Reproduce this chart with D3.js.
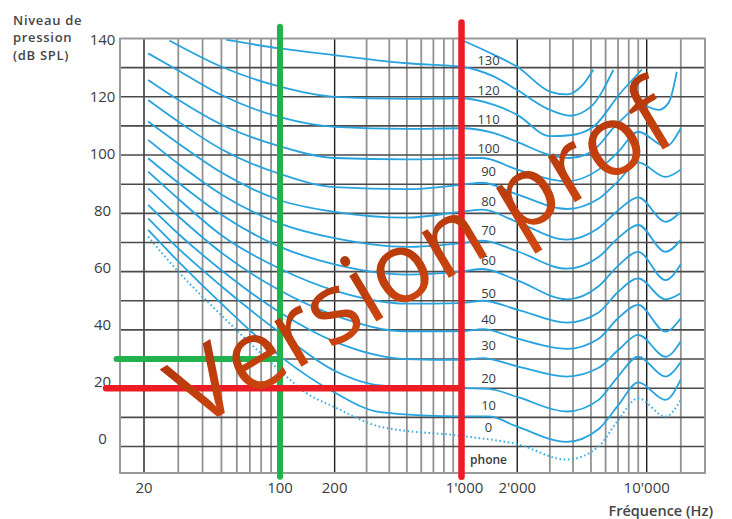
<!DOCTYPE html>
<html>
<head>
<meta charset="utf-8">
<script src="https://cdn.jsdelivr.net/npm/d3@7/dist/d3.min.js"></script>
<style>
body { margin: 0; background: #fff; }
text { font-family: "Open Sans", "Liberation Sans", sans-serif; }
</style>
</head>
<body>
<script>
// equal loudness contours: [frequency (Hz), level (dB SPL)]
let threshold = [[21,72],[30,60],[50,45],[100,26],[140,18.3],[200,13.5],[356,6.8],[1000,3.6],[2000,0.8],[3700,-4.5],[5500,0],[7000,9],[9000,16.5],[12500,10.3],[15000,16]];
let phon10 = [[21,74.3],[30,63.5],[50,49],[100,31],[200,18.5],[356,11.8],[1000,10.3],[1400,10.3],[2000,6.8],[3700,1.6],[5500,6],[7000,14],[9000,22],[12500,16],[15000,23]];
let phon20 = [[21,78.3],[30,68],[50,55],[100,39],[200,26],[356,21],[1000,20],[1400,19.8],[2000,17],[3700,12],[5500,16],[7000,24],[9000,30.8],[12500,24],[15000,29]];
let phon30 = [[21,82.9],[30,73],[50,60.5],[100,46],[200,36],[500,30],[1000,29.7],[1300,30.3],[2000,27.5],[3700,24],[5500,27],[7000,33],[9000,38.3],[12500,30.8],[15000,36]];
let phon40 = [[21,88.6],[30,79],[50,66.5],[100,53.5],[200,45],[500,39.5],[1000,39.5],[1300,40.3],[2000,37],[3700,33.5],[5500,37],[7000,44],[9000,48.6],[12500,39.4],[15000,44]];
let phon50 = [[21,94.3],[30,85],[50,72.5],[100,61],[200,53.5],[500,49],[1000,49.2],[1300,50],[2000,47],[3700,42.5],[5500,46],[7000,53],[9000,57.7],[12500,50.5],[15000,52.6]];
let phon60 = [[21,98.9],[30,90.5],[50,79.5],[100,68.5],[200,62.5],[500,59],[1000,60.1],[1300,60.9],[2000,57],[3700,50.5],[5500,55],[7000,62],[9000,66.8],[12500,57.1],[15000,62.5]];
let phon70 = [[21,105.2],[30,97],[50,86.5],[100,76.5],[200,71.5],[500,68.5],[1000,69.8],[1300,70.6],[2000,67],[3700,61],[5500,65],[7000,71.5],[9000,76],[12500,66.8],[15000,70.9]];
let phon80 = [[21,111.5],[30,104],[50,94],[100,84.5],[200,80.5],[500,78.5],[1000,80.6],[1300,81.3],[2000,77],[3700,71],[5500,75],[7000,81],[9000,85.5],[12500,77.1],[15000,80.6]];
let phon90 = [[21,118.9],[30,111.5],[50,102],[100,93.5],[200,89],[500,88.3],[1000,89.8],[1300,90.5],[2000,86.5],[3700,81.5],[5500,85],[7000,91],[9000,97.5],[12500,92.5],[15000,95]];
let phon100 = [[21,125.8],[30,119],[50,110.5],[100,103],[200,99],[500,98.5],[1000,98.9],[1300,99],[2000,95],[3700,91],[5500,95],[7000,101],[9000,108],[12500,103],[15000,109.2]];
let phon110 = [[21,134.9],[30,129],[50,120.6],[100,113],[200,109.7],[500,109],[1000,109.2],[1500,107.5],[2000,104.5],[3000,100],[3800,99],[5000,101],[7000,111],[9500,117],[11500,115.5],[13000,118],[14300,128.6]];
let phon120 = [[27,139.3],[50,130.3],[100,123.5],[200,120],[500,119.3],[1000,119.5],[1500,117.2],[2000,113.8],[3000,106.5],[3850,106.8],[5150,109.7],[7200,121.2],[9400,129.3]];
let phon130 = [[53,139.5],[100,136.6],[200,134.3],[500,131.5],[1000,130.3],[1500,126.9],[2000,122.3],[3000,115.5],[3850,113.5],[5000,116.6],[6600,129.2]];
let phon140 = [[1000,139.5],[1500,134.4],[2000,130.3],[3000,121.8],[3700,120.8],[4500,124],[5150,129.3]];

let solidCurves = [phon10, phon20, phon30, phon40, phon50, phon60, phon70, phon80, phon90, phon100, phon110, phon120, phon130, phon140];

// curve labels, written just above each curve near 1.4 kHz
let phonLabels = ["130", "120", "110", "100", "90", "80", "70", "60", "50", "40", "30", "20", "10", "0", "phone"];
let phonLabelDb = [132.4, 122.3, 112.3, 102.3, 94.3, 84.0, 74.3, 64.0, 52.6, 43.7, 34.8, 23.4, 14.2, 6.6, -4.6];
let phonLabelFreq = 1400;

let yTicks = [0, 20, 40, 60, 80, 100, 120, 140];
let xTicks = [20, 100, 200, 1000, 2000, 10000];
let xTickLabels = ["20", "100", "200", "1'000", "2'000", "10'000"];
let majorFreqs = [20, 100, 200, 1000, 2000, 10000];

// the two teaching marks: [frequency, level]
let greenMark = [100, 30];
let redMark = [1000, 20];

let svgContainer,
    svgWidth = 732,
    svgHeight = 519,
    plot = { left: 120, right: 705, top: 38.5, bottom: 473 };

// the grid in the picture is not quite regular, so the log scale is piecewise
let x = d3.scaleLog()
    .domain([15, 20, 100, 1000, 10000, 20000])
    .range([plot.left, 144, 280, 461.5, 646.7, plot.right]);
let y = d3.scaleLinear().domain([-9.1, 140]).range([plot.bottom, plot.top]);
// the printed y labels sit a little above their grid lines
let yLabel = d3.scaleLinear().domain([0, 140]).range([438.5, 39.5]);

function init() {
    svgContainer = d3.select("body").append("svg")
        .attr("width", svgWidth)
        .attr("height", svgHeight);

    drawGrid();
    drawCurves();
    drawLabels();
    drawMarks();
    drawWatermark();
}

function drawGrid() {
    let g = svgContainer.append("g");
    let gridFreqs = [];
    [10, 100, 1000].forEach(dec => {
        for (let k = 1; k <= 9; k++) {
            let f = dec * k;
            if (f >= 20) gridFreqs.push(f);
        }
    });
    gridFreqs.push(10000, 15000);

    g.selectAll(".vgrid").data(gridFreqs).enter().append("line")
        .attr("x1", d => x(d)).attr("x2", d => x(d))
        .attr("y1", plot.top).attr("y2", plot.bottom)
        .attr("stroke", d => majorFreqs.includes(d) ? "#1e1e1e" : "#929292")
        .attr("stroke-width", d => majorFreqs.includes(d) ? 1.4 : 1.8);

    let gridDb = d3.range(0, 140, 10);
    g.selectAll(".hgrid").data(gridDb).enter().append("line")
        .attr("x1", plot.left).attr("x2", plot.right)
        .attr("y1", d => y(d)).attr("y2", d => y(d))
        .attr("stroke", "#4a4a4a")
        .attr("stroke-width", 1.6);

    g.append("rect")
        .attr("x", plot.left).attr("y", plot.top)
        .attr("width", plot.right - plot.left).attr("height", plot.bottom - plot.top)
        .attr("fill", "none")
        .attr("stroke", "#9a9a9a")
        .attr("stroke-width", 2);
}

function drawCurves() {
    let line = d3.line()
        .x(d => x(d[0]))
        .y(d => y(d[1]))
        .curve(d3.curveMonotoneX);

    svgContainer.append("g").selectAll("path").data(solidCurves).enter().append("path")
        .attr("d", line)
        .attr("fill", "none")
        .attr("stroke", "#27a3df")
        .attr("stroke-width", 1.8);

    svgContainer.append("path")
        .attr("d", line(threshold))
        .attr("fill", "none")
        .attr("stroke", "#3aaee6")
        .attr("stroke-width", 2)
        .attr("stroke-dasharray", "1.6,2.6");
}

function drawLabels() {
    // y axis labels, centred in the gutter left of the grid
    svgContainer.append("g").selectAll("text").data(yTicks).enter().append("text")
        .attr("x", 102.5)
        .attr("y", d => yLabel(d))
        .attr("dy", "0.36em")
        .attr("text-anchor", "middle")
        .attr("font-size", 15)
        .attr("fill", "#3c3c3c")
        .text(d => d);

    // x axis labels
    svgContainer.append("g").selectAll("text").data(xTicks).enter().append("text")
        .attr("x", (d, i) => x(d) + (d === 1000 ? 3 : 0))
        .attr("y", 493)
        .attr("text-anchor", "middle")
        .attr("font-size", 15)
        .attr("fill", "#3c3c3c")
        .text((d, i) => xTickLabels[i]);

    // phon labels
    svgContainer.append("g").selectAll("text").data(phonLabels).enter().append("text")
        .attr("x", x(phonLabelFreq))
        .attr("y", (d, i) => y(phonLabelDb[i]))
        .attr("dy", "0.36em")
        .attr("text-anchor", "middle")
        .attr("font-size", d => d === "phone" ? 12 : 13)
        .attr("font-weight", d => d === "phone" ? 600 : 400)
        .attr("fill", "#3a3a3a")
        .text(d => d);

    let title = ["Niveau de", "pression", "(dB SPL)"];
    svgContainer.append("g").selectAll("text").data(title).enter().append("text")
        .attr("x", 13)
        .attr("y", (d, i) => 25 + i * 17.3)
        .attr("font-size", 13)
        .attr("font-weight", 600)
        .attr("letter-spacing", 0.7)
        .attr("fill", "#454545")
        .text(d => d);

    svgContainer.append("text")
        .attr("x", 713)
        .attr("y", 516)
        .attr("text-anchor", "end")
        .attr("font-size", 14.5)
        .attr("font-weight", 600)
        .attr("fill", "#454545")
        .text("Fréquence (Hz)");
}

function drawMarks() {
    let g = svgContainer.append("g").attr("stroke-linecap", "round");

    // green: 100 Hz, 30 dB
    g.append("line")
        .attr("x1", x(14.4)).attr("x2", x(greenMark[0]))
        .attr("y1", y(greenMark[1])).attr("y2", y(greenMark[1]))
        .attr("stroke", "#22b24c").attr("stroke-width", 6);
    g.append("line")
        .attr("x1", x(greenMark[0])).attr("x2", x(greenMark[0]))
        .attr("y1", y(144)).attr("y2", y(-10.4))
        .attr("stroke", "#22b24c").attr("stroke-width", 6);

    // red: 1 kHz, 20 dB
    g.append("line")
        .attr("x1", x(12.7)).attr("x2", x(redMark[0]))
        .attr("y1", y(redMark[1])).attr("y2", y(redMark[1]))
        .attr("stroke", "#ec1c24").attr("stroke-width", 6.5);
    g.append("line")
        .attr("x1", x(redMark[0])).attr("x2", x(redMark[0]))
        .attr("y1", y(145.5)).attr("y2", y(-10.4))
        .attr("stroke", "#ec1c24").attr("stroke-width", 6.5);
}

function drawWatermark() {
    let defs = svgContainer.append("defs");
    let grad = defs.append("linearGradient")
        .attr("id", "wm").attr("x1", 0).attr("y1", 0).attr("x2", 0).attr("y2", 1);
    grad.append("stop").attr("offset", "0%").attr("stop-color", "#a8320a");
    grad.append("stop").attr("offset", "100%").attr("stop-color", "#d4490f");

    svgContainer.append("text")
        .attr("transform", "translate(196,430) rotate(-31)")
        .attr("font-family", "Lato, 'Open Sans', sans-serif")
        .attr("font-size", 99)
        .attr("fill", "url(#wm)")
        .text("Version prof");
}

init();
</script>
</body>
</html>
